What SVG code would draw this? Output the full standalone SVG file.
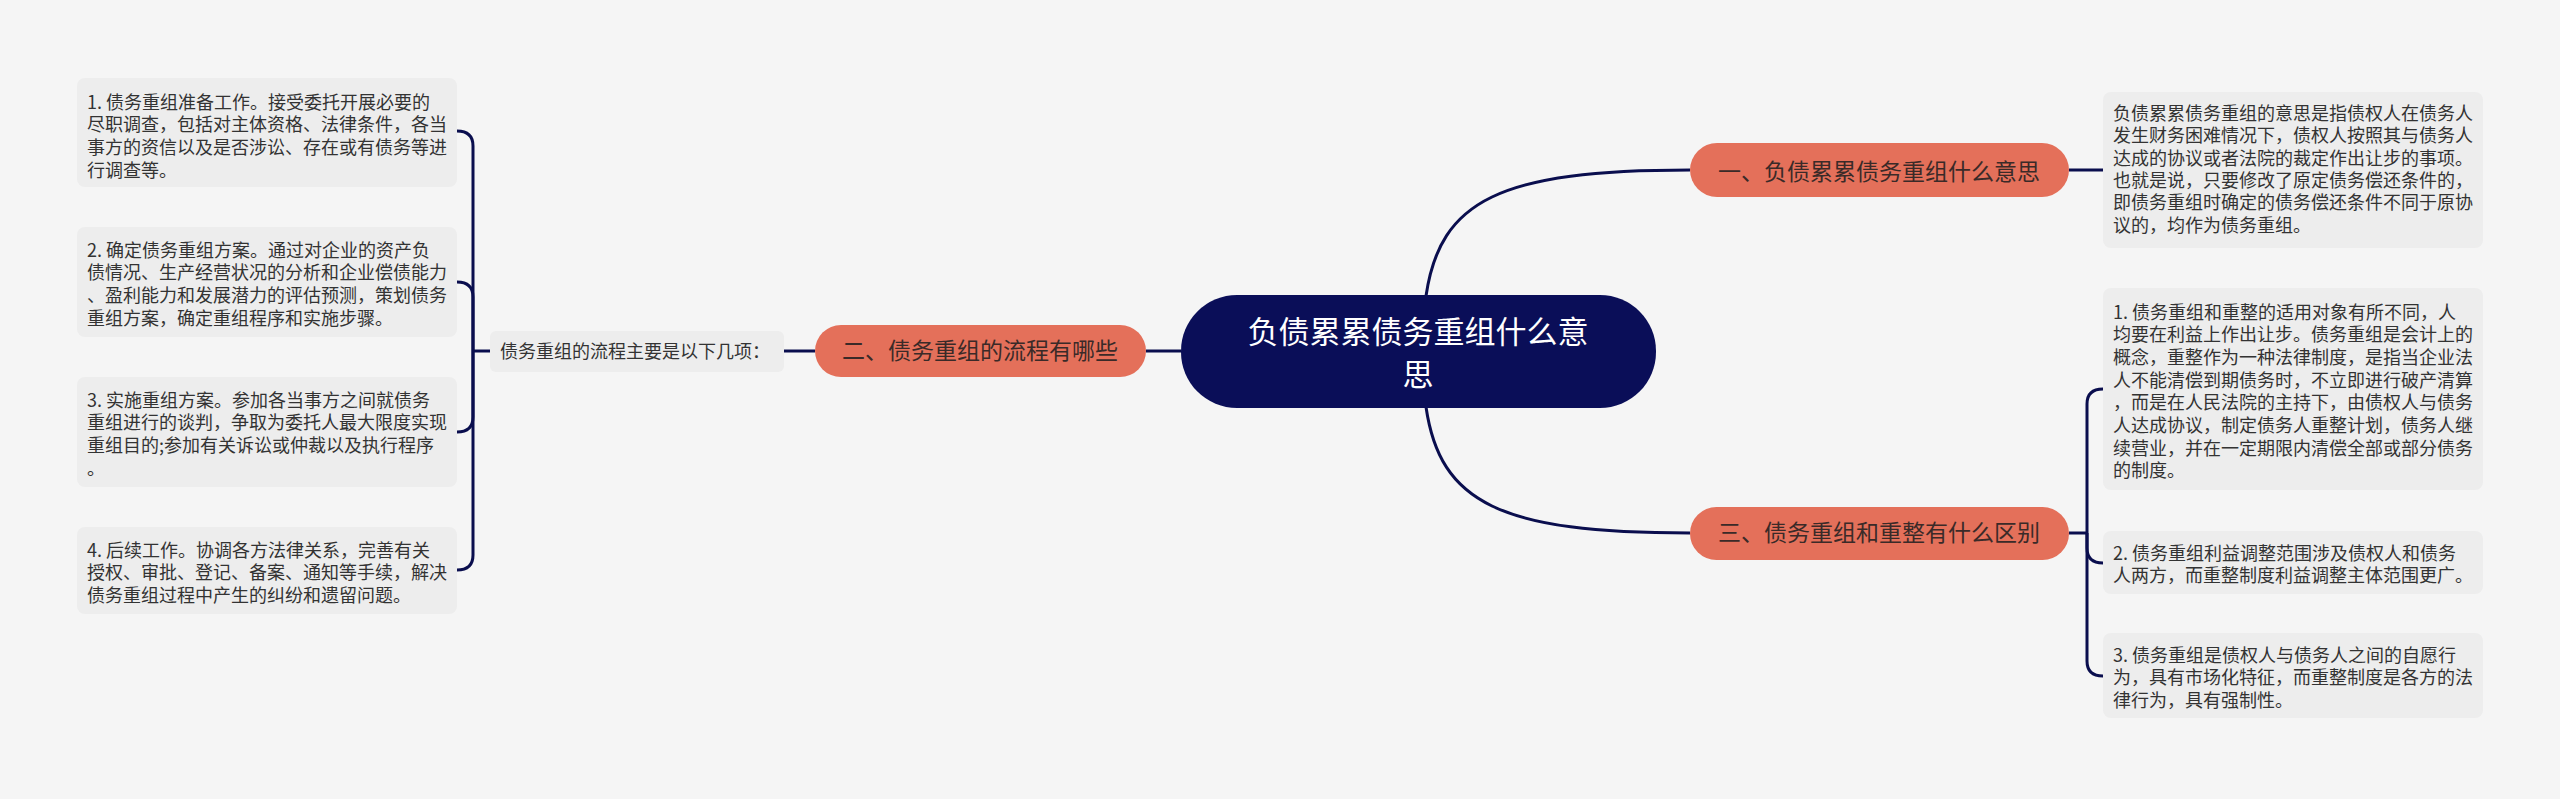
<svg xmlns="http://www.w3.org/2000/svg" width="2560" height="799" viewBox="0 0 2560 799">
<style>
.bg{fill:#f5f5f5}
.box{fill:#ededed}
.t{font-family:"Noto Sans CJK SC","Noto Sans",sans-serif;font-size:18px;fill:#333333}
.sub{fill:#e4705a}
.st{font-family:"Noto Sans CJK SC","Noto Sans",sans-serif;font-size:23px;fill:#3a2a28;text-anchor:middle}
.root{fill:#0a0e58}
.rt{font-family:"Noto Sans CJK SC","Noto Sans",sans-serif;font-size:31px;fill:#ffffff;text-anchor:middle}
.ln{fill:none;stroke:#0a0e4e;stroke-width:3}
</style>
<rect class="bg" x="0" y="0" width="2560" height="799"/>
<g id="connectors">
<path class="ln" d="M1426 296 C1440 200 1500 170 1690 170"/>
<path class="ln" d="M1426 407 C1440 503 1500 533 1690 533"/>
<path class="ln" d="M1181 351 H1146"/>
<path class="ln" d="M815 351 H784"/>
<path class="ln" d="M490 351 H473"/>
<path class="ln" d="M473 351 V146 Q473 131 457 131"/>
<path class="ln" d="M473 351 V297 Q473 282 457 282"/>
<path class="ln" d="M473 351 V417 Q473 432 457 432"/>
<path class="ln" d="M473 351 V555 Q473 570 457 570"/>
<path class="ln" d="M2069 170 H2103"/>
<path class="ln" d="M2069 533 H2087"/>
<path class="ln" d="M2087 533 V404 Q2087 389 2103 389"/>
<path class="ln" d="M2087 533 V548 Q2087 563 2103 563"/>
<path class="ln" d="M2087 533 V661 Q2087 676 2103 676"/>
</g>
<g id="root">
<rect class="root" x="1181" y="295" width="475" height="113" rx="56"/>
<text class="rt" x="1418" y="343">负债累累债务重组什么意</text>
<text class="rt" x="1418" y="386">思</text>
</g>
<g id="n1">
<rect class="sub" x="1690" y="143" width="379" height="54" rx="27"/>
<text class="st" x="1879" y="180">一、负债累累债务重组什么意思</text>
</g>
<g id="n2">
<rect class="sub" x="815" y="325" width="331" height="52" rx="26"/>
<text class="st" x="980" y="359">二、债务重组的流程有哪些</text>
</g>
<g id="n3">
<rect class="sub" x="1690" y="507" width="379" height="53" rx="26.5"/>
<text class="st" x="1879" y="541">三、债务重组和重整有什么区别</text>
</g>
<g id="n2a">
<rect class="box" x="490" y="331" width="294" height="41" rx="6"/>
<text class="t" x="500" y="357.5">债务重组的流程主要是以下几项：</text>
</g>
<g id="l1">
<rect class="box" x="77" y="78" width="380" height="109" rx="8"/>
<text class="t" x="87" y="108.5">1. 债务重组准备工作。接受委托开展必要的</text>
<text class="t" x="87" y="131.2">尽职调查，包括对主体资格、法律条件，各当</text>
<text class="t" x="87" y="153.9">事方的资信以及是否涉讼、存在或有债务等进</text>
<text class="t" x="87" y="176.6">行调查等。</text>
</g>
<g id="l2">
<rect class="box" x="77" y="227" width="380" height="110" rx="8"/>
<text class="t" x="87" y="256.5">2. 确定债务重组方案。通过对企业的资产负</text>
<text class="t" x="87" y="279.2">债情况、生产经营状况的分析和企业偿债能力</text>
<text class="t" x="87" y="301.9">、盈利能力和发展潜力的评估预测，策划债务</text>
<text class="t" x="87" y="324.6">重组方案，确定重组程序和实施步骤。</text>
</g>
<g id="l3">
<rect class="box" x="77" y="377" width="380" height="110" rx="8"/>
<text class="t" x="87" y="406.5">3. 实施重组方案。参加各当事方之间就债务</text>
<text class="t" x="87" y="429.2">重组进行的谈判，争取为委托人最大限度实现</text>
<text class="t" x="87" y="451.9">重组目的;参加有关诉讼或仲裁以及执行程序</text>
<text class="t" x="87" y="474.6">。</text>
</g>
<g id="l4">
<rect class="box" x="77" y="527" width="380" height="87" rx="8"/>
<text class="t" x="87" y="556.5">4. 后续工作。协调各方法律关系，完善有关</text>
<text class="t" x="87" y="579.2">授权、审批、登记、备案、通知等手续，解决</text>
<text class="t" x="87" y="601.9">债务重组过程中产生的纠纷和遗留问题。</text>
</g>
<g id="r0">
<rect class="box" x="2103" y="92" width="380" height="156" rx="8"/>
<text class="t" x="2113" y="119.8">负债累累债务重组的意思是指债权人在债务人</text>
<text class="t" x="2113" y="142.2">发生财务困难情况下，债权人按照其与债务人</text>
<text class="t" x="2113" y="164.6">达成的协议或者法院的裁定作出让步的事项。</text>
<text class="t" x="2113" y="187">也就是说，只要修改了原定债务偿还条件的，</text>
<text class="t" x="2113" y="209.4">即债务重组时确定的债务偿还条件不同于原协</text>
<text class="t" x="2113" y="231.8">议的，均作为债务重组。</text>
</g>
<g id="r1">
<rect class="box" x="2103" y="288" width="380" height="202" rx="8"/>
<text class="t" x="2113" y="318.5">1. 债务重组和重整的适用对象有所不同，人</text>
<text class="t" x="2113" y="341.2">均要在利益上作出让步。债务重组是会计上的</text>
<text class="t" x="2113" y="363.9">概念，重整作为一种法律制度，是指当企业法</text>
<text class="t" x="2113" y="386.6">人不能清偿到期债务时，不立即进行破产清算</text>
<text class="t" x="2113" y="409.3">，而是在人民法院的主持下，由债权人与债务</text>
<text class="t" x="2113" y="432">人达成协议，制定债务人重整计划，债务人继</text>
<text class="t" x="2113" y="454.7">续营业，并在一定期限内清偿全部或部分债务</text>
<text class="t" x="2113" y="477.4">的制度。</text>
</g>
<g id="r2">
<rect class="box" x="2103" y="531" width="380" height="63" rx="8"/>
<text class="t" x="2113" y="559.5">2. 债务重组利益调整范围涉及债权人和债务</text>
<text class="t" x="2113" y="582.2">人两方，而重整制度利益调整主体范围更广。</text>
</g>
<g id="r3">
<rect class="box" x="2103" y="633" width="380" height="85" rx="8"/>
<text class="t" x="2113" y="661.5">3. 债务重组是债权人与债务人之间的自愿行</text>
<text class="t" x="2113" y="684.2">为，具有市场化特征，而重整制度是各方的法</text>
<text class="t" x="2113" y="706.9">律行为，具有强制性。</text>
</g>
</svg>
